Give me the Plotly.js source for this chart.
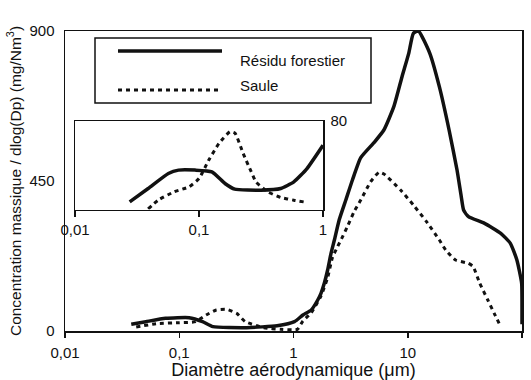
<!DOCTYPE html>
<html>
<head>
<meta charset="utf-8">
<script src="https://cdn.plot.ly/plotly-3.0.1.min.js"></script>
<style>html,body{margin:0;padding:0;background:#fff;}#chart{width:531px;height:380px;}</style>
</head>
<body>
<div id="chart"></div>
<script>
// ---- data (diameter in µm, concentration in mg/Nm3) ----
const seriesNames = ['Résidu forestier', 'Saule'];

const residuDiam = [0.038, 0.051, 0.076, 0.122, 0.160, 0.197, 0.389, 0.719, 1.02, 1.21, 1.43, 1.63, 1.74, 1.86, 1.99, 2.13, 2.28, 2.51, 2.87, 3.28, 3.88, 5.06, 6.18, 7.55, 8.91, 10.2, 11.2, 12.4, 15.6, 18.9, 23.0, 27.0, 29.4, 30.8, 34.0, 47.0, 65.2, 79.1, 90.2, 99.3, 100, 100];
const residuConc = [20, 28, 38, 40, 28, 13, 10, 16, 28, 48, 63, 93, 113, 143, 183, 233, 273, 333, 393, 453, 520, 565, 603, 673, 763, 833, 893, 900, 833, 733, 603, 483, 403, 363, 343, 323, 293, 263, 213, 143, 73, 20];

const sauleDiam = [0.042, 0.063, 0.100, 0.139, 0.172, 0.211, 0.259, 0.318, 0.378, 0.551, 0.776, 1.08, 1.21, 1.43, 1.74, 1.99, 2.19, 2.43, 2.69, 2.96, 3.39, 3.88, 4.74, 5.60, 6.18, 8.65, 11.2, 14.6, 18.9, 21.5, 26.2, 34.0, 37.4, 42.7, 50.2, 57.1, 65.2];
const sauleConc = [12, 22, 25, 28, 48, 63, 65, 53, 28, 10, 5, 5, 30, 55, 105, 160, 220, 253, 283, 313, 358, 393, 448, 476, 471, 423, 378, 328, 273, 243, 213, 203, 193, 143, 93, 53, 13];

// inset (zoom on the fine particles, 0.01–1 µm, 0–80 mg/Nm3)
const insetResiduDiam = [0.0276, 0.0389, 0.0566, 0.0684, 0.0933, 0.127, 0.162, 0.194, 0.316, 0.456, 0.582, 0.743, 1.0];
const insetResiduConc = [6.9, 19, 32.6, 35.6, 35.6, 34, 23.5, 18.4, 17.5, 19, 25, 37, 58];
const insetSauleDiam = [0.0389, 0.0468, 0.0631, 0.0832, 0.100, 0.120, 0.145, 0.178, 0.195, 0.227, 0.264, 0.288, 0.358, 0.456, 0.582, 0.698];
const insetSauleConc = [0.5, 8.4, 16, 20.5, 28, 44.7, 59.8, 70.3, 69, 50.7, 34, 25, 16, 10.9, 8.4, 6.9];

const mainXTickVals = [0.01, 0.1, 1, 10, 100];
const mainXTickText = ['0,01', '0,1', '1', '10', '100'];
const mainYTickVals = [0, 450, 900];
const insetXTickVals = [0.01, 0.1, 1];
const insetXTickText = ['0,01', '0,1', '1'];
const insetYTickVals = [80];

// ---- layout helpers (pixel -> paper) ----
const W = 531, H = 380;
const M = {l: 65, r: 9, t: 31, b: 49};
const PW = W - M.l - M.r, PH = H - M.t - M.b;
const px = v => (v - M.l) / PW;
const py = v => (H - M.b - v) / PH;

const INK = '#111';
const FONT = '"Liberation Sans", Arial, sans-serif';
const solid = {color: INK, width: 3.5, shape: 'spline', smoothing: 0.5};
const dotted = {color: INK, width: 3, dash: '4px,4px', shape: 'spline', smoothing: 0.5};
const legSolid = {color: INK, width: 3.5};
const legDotted = {color: INK, width: 3, dash: '4px,4px'};

const traces = [
  {x: residuDiam, y: residuConc, type: 'scatter', mode: 'lines', line: solid, name: seriesNames[0], xaxis: 'x', yaxis: 'y'},
  {x: sauleDiam, y: sauleConc, type: 'scatter', mode: 'lines', line: dotted, name: seriesNames[1], xaxis: 'x', yaxis: 'y'},
  {x: insetResiduDiam, y: insetResiduConc, type: 'scatter', mode: 'lines', line: solid, name: seriesNames[0], xaxis: 'x2', yaxis: 'y2'},
  {x: insetSauleDiam, y: insetSauleConc, type: 'scatter', mode: 'lines', line: dotted, name: seriesNames[1], xaxis: 'x2', yaxis: 'y2'}
];

const axisCommon = {showline: true, linecolor: INK, linewidth: 1.5, mirror: true, showgrid: false, zeroline: false,
  tickfont: {family: FONT, size: 15, color: INK}};

const layout = {
  width: W, height: H, margin: M,
  paper_bgcolor: '#fff', plot_bgcolor: '#fff',
  showlegend: false,
  font: {family: FONT, size: 15, color: INK},
  xaxis: Object.assign({}, axisCommon, {
    type: 'log', range: [-2, 2], tickvals: mainXTickVals, ticktext: mainXTickText,
    ticks: 'outside', ticklen: 5, tickwidth: 1.5, tickcolor: INK, ticklabelstandoff: 2,
    title: {text: 'Diamètre aérodynamique (μm)', font: {family: FONT, size: 18, color: INK}, standoff: 3}
  }),
  yaxis: Object.assign({}, axisCommon, {
    range: [0, 900], tickvals: mainYTickVals, ticks: '', ticklabelstandoff: 6,
    title: {text: 'Concentration massique / dlog(Dp) (mg/Nm<sup>3</sup>)', font: {family: FONT, size: 15.5, color: INK}, standoff: 4}
  }),
  xaxis2: Object.assign({}, axisCommon, {
    type: 'log', range: [-2, 0], domain: [px(75), px(323)], anchor: 'y2',
    tickvals: insetXTickVals, ticktext: insetXTickText,
    ticks: 'outside', ticklen: 6, tickwidth: 1.5, tickcolor: INK, ticklabelstandoff: 0
  }),
  yaxis2: Object.assign({}, axisCommon, {
    range: [0, 80], domain: [py(209.5), py(121)], anchor: 'x2', side: 'right',
    tickvals: insetYTickVals, ticks: '', ticklabelstandoff: 3
  }),
  shapes: [
    {type: 'rect', xref: 'paper', yref: 'paper', x0: px(95), x1: px(371), y0: py(103), y1: py(38),
     line: {color: INK, width: 1.5}, fillcolor: 'rgba(0,0,0,0)'},
    {type: 'line', xref: 'paper', yref: 'paper', x0: px(118), x1: px(222), y0: py(51), y1: py(51), line: legSolid},
    {type: 'line', xref: 'paper', yref: 'paper', x0: px(118), x1: px(222), y0: py(90), y1: py(90), line: legDotted}
  ],
  annotations: [
    {xref: 'paper', yref: 'paper', x: px(238), y: py(60), xanchor: 'left', yanchor: 'middle', showarrow: false,
     text: seriesNames[0], font: {family: FONT, size: 15, color: INK}},
    {xref: 'paper', yref: 'paper', x: px(238), y: py(85), xanchor: 'left', yanchor: 'middle', showarrow: false,
     text: seriesNames[1], font: {family: FONT, size: 15, color: INK}}
  ]
};

Plotly.newPlot('chart', traces, layout, {staticPlot: true, displayModeBar: false});
</script>
</body>
</html>
